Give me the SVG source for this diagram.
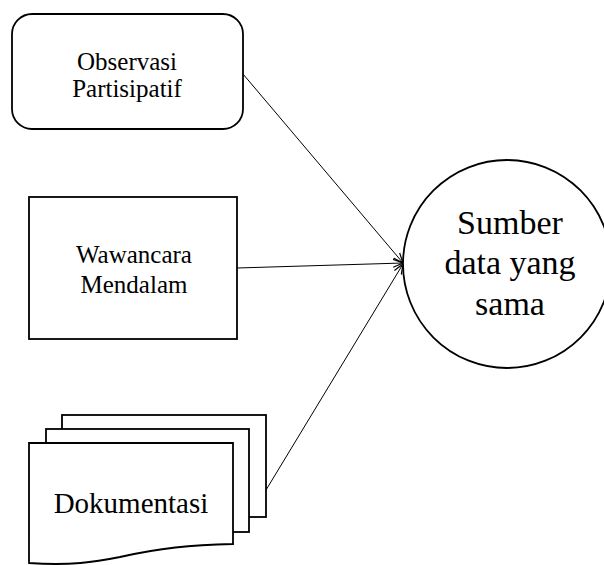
<svg xmlns="http://www.w3.org/2000/svg" width="604" height="565" viewBox="0 0 604 565">
  <defs>
    <style>
      .shape { fill: #ffffff; stroke: #000000; stroke-width: 1.8; }
      .edge { fill: none; stroke: #000000; stroke-width: 1; marker-end: url(#openArrow); }
      .label { font-family: "Liberation Serif", "Times New Roman", serif; fill: #000000; text-anchor: middle; }
    </style>
    <marker id="openArrow" viewBox="0 0 10 10" refX="10" refY="5" markerWidth="10" markerHeight="10" markerUnits="userSpaceOnUse" orient="auto">
      <path d="M0,1 L10,5 L0,9" fill="none" stroke="#000000" stroke-width="1.2"/>
    </marker>
  </defs>

  <!-- connectors -->
  <g id="connectors">
    <line class="edge" x1="243" y1="74" x2="403" y2="263"/>
    <line class="edge" x1="237" y1="268" x2="403" y2="263"/>
    <line class="edge" x1="266" y1="490" x2="403" y2="264"/>
  </g>

  <g id="observasi">
    <rect class="shape" x="12" y="14" width="231" height="115" rx="20" ry="20"/>
    <text class="label" font-size="25" x="127" y="70">Observasi</text>
    <text class="label" font-size="25" x="127" y="97">Partisipatif</text>
  </g>

  <g id="wawancara">
    <rect class="shape" x="29" y="197" width="208" height="142"/>
    <text class="label" font-size="25" x="134" y="263">Wawancara</text>
    <text class="label" font-size="25" x="134" y="293">Mendalam</text>
  </g>

  <g id="dokumentasi">
    <rect class="shape" x="62" y="415" width="204" height="102"/>
    <rect class="shape" x="46" y="429" width="203" height="103"/>
    <path class="shape" d="M29,443 L233,443 L233,544 C190,545 160,548 120,557 C95,562 70,566 29,563 Z"/>
    <text class="label" font-size="29" x="131" y="513">Dokumentasi</text>
  </g>

  <g id="sumber-data">
    <circle class="shape" cx="507" cy="264" r="104"/>
    <text class="label" font-size="34" x="510" y="234">Sumber</text>
    <text class="label" font-size="34" x="510" y="274">data yang</text>
    <text class="label" font-size="34" x="510" y="315">sama</text>
  </g>
</svg>
